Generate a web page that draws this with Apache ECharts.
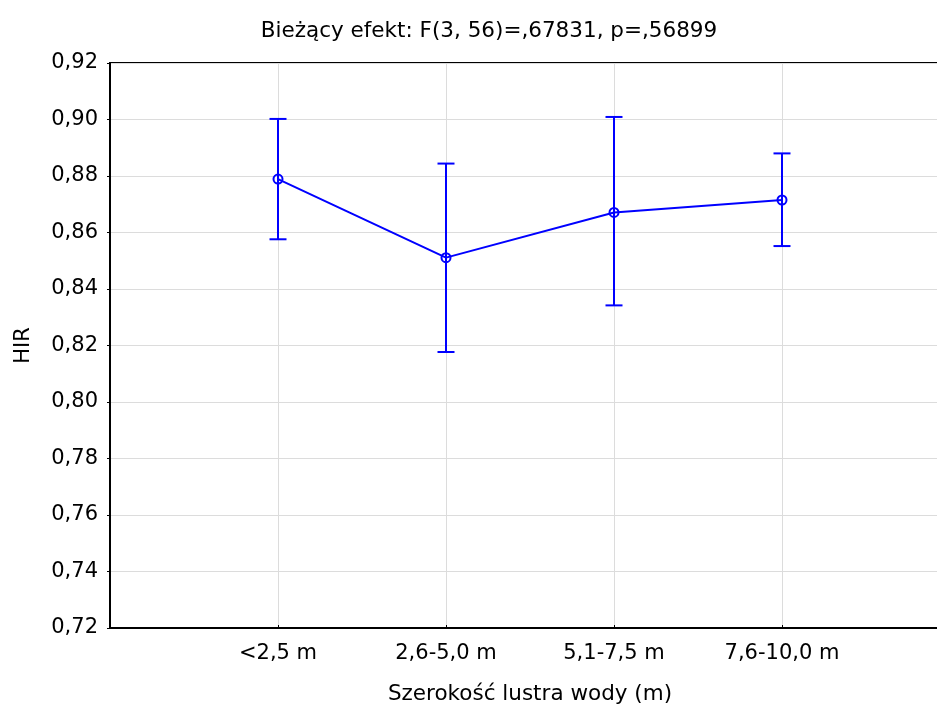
<!DOCTYPE html>
<html><head><meta charset="utf-8">
<script src="https://cdn.jsdelivr.net/npm/echarts@6/dist/echarts.min.js"></script>
<style>html,body{margin:0;padding:0;background:#fff}#c{width:937px;height:711px}</style>
</head><body><div id="c"></div>
<script>
const categories = ['<2,5 m', '2,6-5,0 m', '5,1-7,5 m', '7,6-10,0 m'];
const means = [0.8789, 0.8511, 0.8671, 0.8715];
const upper = [0.9002, 0.8844, 0.9009, 0.8880];
const lower = [0.8576, 0.8177, 0.8342, 0.8552];
const yTicks = {min: 0.72, max: 0.92, step: 0.02};

const FONT = 'DejaVu Sans';
const BLUE = '#0000ff';
const chart = echarts.init(document.getElementById('c'));
const pts = means.map((m, i) => [i + 1, m]);
const errs = means.map((m, i) => [i + 1, lower[i], upper[i]]);
chart.setOption({
  animation: false,
  title: {text: 'Bieżący efekt: F(3, 56)=,67831, p=,56899', left: 484, top: 15, textAlign: 'center',
    textStyle: {fontFamily: FONT, fontSize: 21.5, fontWeight: 'normal', color: '#000'}},
  grid: {left: 110, top: 63, width: 840, bottom: 83, outerBoundsMode: 'none', containLabel: false,
    show: true, borderColor: '#000', borderWidth: 2},
  xAxis: {type: 'value', min: 0, max: categories.length + 1, interval: 1,
    name: 'Szerokość lustra wody (m)', nameLocation: 'middle', nameGap: 55,
    nameTextStyle: {fontFamily: FONT, fontSize: 21.5, color: '#000'},
    axisLine: {lineStyle: {color: '#000', width: 2}},
    axisTick: {inside: true, length: 3, lineStyle: {color: '#000'}},
    splitLine: {show: true, lineStyle: {color: '#dcdcdc', width: 1}},
    axisLabel: {margin: 15, fontFamily: FONT, fontSize: 21, color: '#000',
      formatter: v => categories[v - 1] || ''}},
  yAxis: {type: 'value', min: yTicks.min, max: yTicks.max, interval: yTicks.step,
    name: 'HIR', nameLocation: 'middle', nameGap: 76,
    nameTextStyle: {fontFamily: FONT, fontSize: 21, color: '#000'},
    axisLine: {show: true, lineStyle: {color: '#000', width: 2}},
    axisTick: {show: true, length: 3, lineStyle: {color: '#000'}},
    splitLine: {show: true, lineStyle: {color: '#dcdcdc', width: 1}},
    axisLabel: {margin: 12, fontFamily: FONT, fontSize: 21, color: '#000',
      formatter: v => v.toFixed(2).replace('.', ',')}},
  series: [
    {type: 'custom', data: errs, z: 3,
      renderItem: (params, api) => {
        const x = api.value(0);
        const lo = api.coord([x, api.value(1)]);
        const hi = api.coord([x, api.value(2)]);
        const w = 8.5;
        const st = {stroke: BLUE, lineWidth: 2};
        return {type: 'group', children: [
          {type: 'line', shape: {x1: lo[0], y1: lo[1], x2: hi[0], y2: hi[1]}, style: st},
          {type: 'line', shape: {x1: lo[0] - w, y1: lo[1], x2: lo[0] + w, y2: lo[1]}, style: st},
          {type: 'line', shape: {x1: hi[0] - w, y1: hi[1], x2: hi[0] + w, y2: hi[1]}, style: st}
        ]};
      }},
    {type: 'line', data: pts, z: 4, symbol: 'circle', symbolSize: 9, showSymbol: true,
      lineStyle: {color: BLUE, width: 2},
      itemStyle: {color: 'rgba(255,255,255,0)', borderColor: BLUE, borderWidth: 2}}
  ]
});
</script></body></html>
